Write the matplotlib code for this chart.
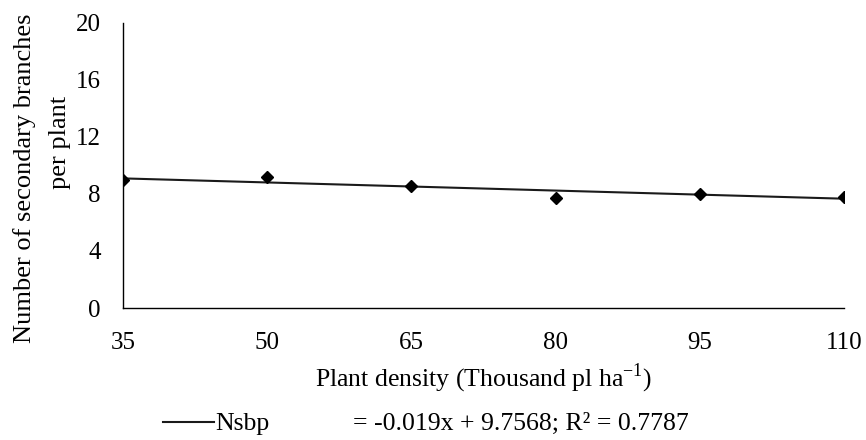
import numpy as np
import matplotlib
matplotlib.use('Agg')
import matplotlib.pyplot as plt

# 數據
density = [35, 50, 65, 80, 95, 110]
nsbp = [9.0, 9.2, 8.55, 7.75, 8.0, 7.78]
slope = -0.019
intercept = 9.7568
r2 = 0.7787
yticks = [0, 4, 8, 12, 16, 20]

plt.rcParams['font.family'] = ['Liberation Serif', 'DejaVu Serif']

fig = plt.figure(figsize=(8.66, 4.4), dpi=100)
ax = fig.add_axes([0.142, 0.30, 0.8326, 0.648])

# 趨勢線
xs = np.array([density[0], density[-1]])
ax.plot(xs, slope * xs + intercept, color='#1a1a1a', lw=1.5, label='Nsbp', zorder=2)
ax.plot(density, nsbp, linestyle='none', marker='D', markersize=6.5,
        color='black', zorder=3)

ax.set_xlim(35, 110)
ax.set_ylim(0, 20)
ax.set_xticks(density)
ax.set_yticks(yticks)
ax.tick_params(length=0, labelsize=18, pad=16)
ax.tick_params(axis='x', pad=17)
for s in ['top', 'right']:
    ax.spines[s].set_visible(False)
for s in ['left', 'bottom']:
    ax.spines[s].set_linewidth(1.0)
    ax.spines[s].set_color('black')

ax.set_xlabel('Plant density (Thousand pl ha$^{\\mathregular{-1}}$)', fontsize=18.5, labelpad=6)

# y軸標題 (兩行)
fig.text(25 / 866, 1 - 178 / 440, 'Number of secondary branches', rotation=90,
         fontsize=19, ha='center', va='center')
fig.text(60 / 866, 1 - 142 / 440, 'per plant', rotation=90,
         fontsize=19, ha='center', va='center')

leg = fig.legend(loc='center left', bbox_to_anchor=(163 / 866, 1 - 424 / 440), frameon=False,
                 fontsize=18.5, handlelength=2.0, handletextpad=0.05, borderpad=0,
                 borderaxespad=0)
fig.text(353 / 866, 1 - 424 / 440, '= %.3fx + %.4f; R² = %.4f' % (slope, intercept, r2),
         fontsize=18.5, va='center', ha='left')

plt.savefig('out.png', dpi=100)
